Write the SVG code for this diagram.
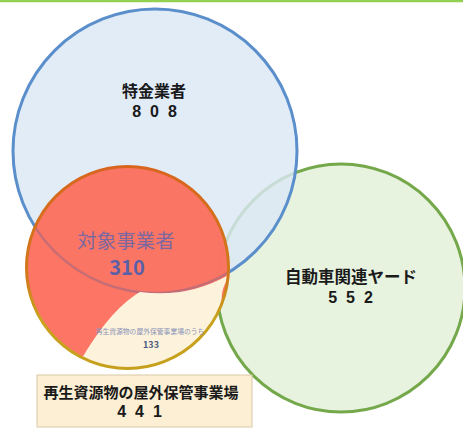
<svg xmlns="http://www.w3.org/2000/svg" width="463" height="430" viewBox="0 0 463 430">
<defs>
<linearGradient id="og" x1="0" y1="0" x2="0" y2="1">
<stop offset="0" stop-color="#d8651e"/>
<stop offset="0.55" stop-color="#d07a1a"/>
<stop offset="0.75" stop-color="#c9a21e"/>
<stop offset="1" stop-color="#c6a01c"/>
</linearGradient>
<clipPath id="oc"><circle cx="127.5" cy="267.5" r="101"/></clipPath>
</defs>
<style>
text{font-family:"Noto Sans CJK JP","Liberation Sans",sans-serif;text-anchor:middle}
.b{font-weight:bold;fill:#1a1a1a}
.n{font-family:"Liberation Sans",Arial,sans-serif;font-weight:bold;fill:#1a1a1a}
</style>
<rect width="463" height="430" fill="#ffffff"/>
<line x1="0" y1="1" x2="463" y2="1" stroke="#92d050" stroke-width="2.5"/>
<g id="yard">
<circle cx="341" cy="288" r="124" fill="#e7f3df" stroke="#74a84a" stroke-width="3"/>
</g>
<g id="tokkin">
<circle cx="155" cy="151" r="142" fill="#dbe8f5" fill-opacity="0.82" stroke="#5b8fcb" stroke-width="3"/>
</g>
<g id="taisho">
<circle cx="127.5" cy="267.5" r="101" fill="#fd6a58" fill-opacity="0.92"/>
<circle clip-path="url(#oc)" cx="155" cy="151" r="142" fill="none" stroke="#5b6fb0" stroke-opacity="0.3" stroke-width="2"/>
<path clip-path="url(#oc)" d="M232,273 A142,142 0 0 1 140,292 C118,305 98,330 80,362 L80,380 L222,380 L222,305 C221,295 222,285 232,273 Z" fill="#fdf3dc"/>
<circle cx="127.5" cy="267.5" r="101" fill="none" stroke="url(#og)" stroke-width="3"/>
<text x="126" y="248" font-size="19.5" fill="#6b66a8" fill-opacity="0.9">対象事業者</text>
<text x="127" y="275" font-size="20" font-family="Liberation Sans, Arial, sans-serif" font-weight="bold" fill="#5a60a8">310</text>
<text x="150" y="334" font-size="6.8" fill="#8a92b8">再生資源物の屋外保管事業場のうち</text>
<text x="151" y="348" font-size="9" font-family="Liberation Sans, Arial, sans-serif" font-weight="bold" fill="#4a5a80">133</text>
</g>
<g id="tokkin-label">
<text class="b" x="154" y="97" font-size="16">特金業者</text>
<text class="n" x="159" y="117" font-size="16" letter-spacing="9">808</text>
</g>
<g id="yard-label">
<text class="b" x="351" y="283" font-size="16.5">自動車関連ヤード</text>
<text class="n" x="355" y="303" font-size="16" letter-spacing="9">552</text>
</g>
<g id="saisei">
<rect x="37" y="375" width="215" height="52" fill="#fcefd3" stroke="#d8c9a6" stroke-width="1"/>
<text class="b" x="141" y="398" font-size="15">再生資源物の屋外保管事業場</text>
<text class="n" x="144" y="417" font-size="16" letter-spacing="9">441</text>
</g>
<g id="connectors"></g>
</svg>
